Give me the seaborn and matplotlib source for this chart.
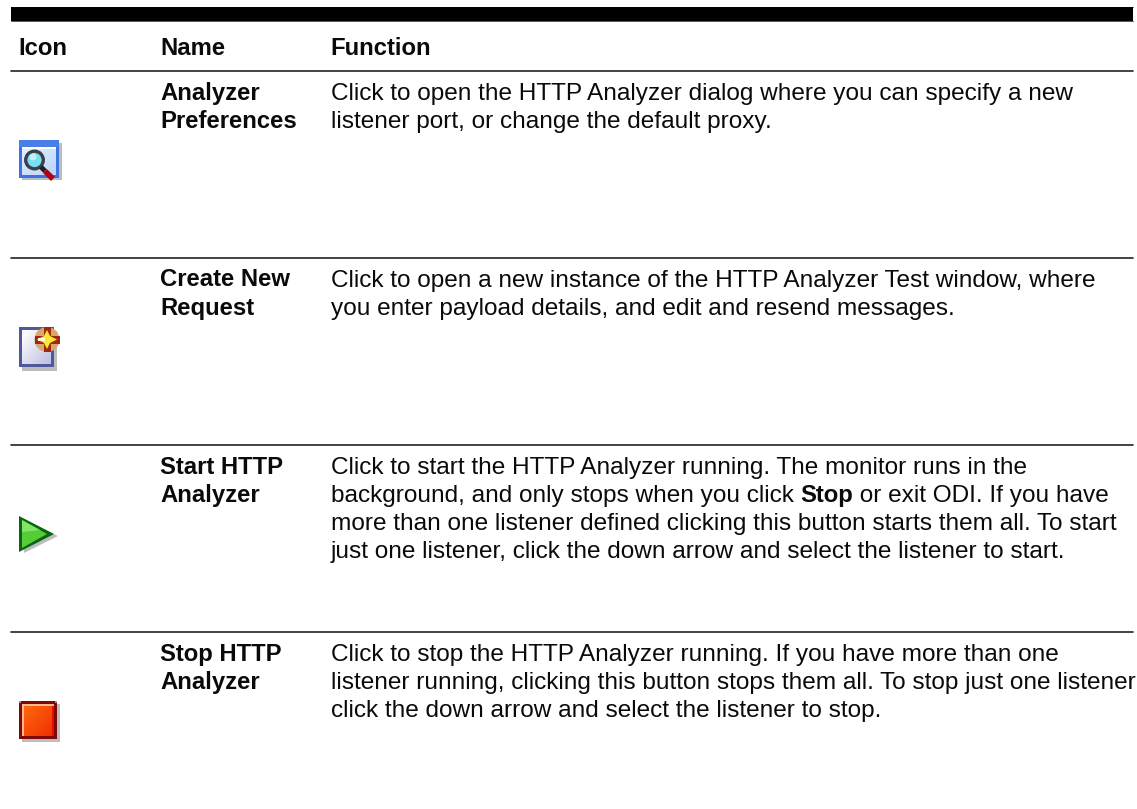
import matplotlib
matplotlib.use("Agg")
import matplotlib.pyplot as plt
import numpy as np
import seaborn as sns
from matplotlib.patches import Circle, Polygon, Rectangle

W, H = 1137, 809

headers = ["Icon", "Name", "Function"]
names = [
    ["Analyzer", "Preferences"],
    ["Create New", "Request"],
    ["Start HTTP", "Analyzer"],
    ["Stop HTTP", "Analyzer"],
]
# bold runs sit between | marks
functions = [
    ["Click to open the HTTP Analyzer dialog where you can specify a new",
     "listener port, or change the default proxy."],
    ["Click to open a new instance of the HTTP Analyzer Test window, where",
     "you enter payload details, and edit and resend messages."],
    ["Click to start the HTTP Analyzer running. The monitor runs in the",
     "background, and only stops when you click |Stop| or exit ODI. If you have",
     "more than one listener defined clicking this button starts them all. To start",
     "just one listener, click the down arrow and select the listener to start."],
    ["Click to stop the HTTP Analyzer running. If you have more than one",
     "listener running, clicking this button stops them all. To stop just one listener",
     "click the down arrow and select the listener to stop."],
]
row_tops = [71, 258, 445, 632]
LINE = 28.3
FS = 17.55
FS_BOLD = 17.2

sns.set_theme(style="white")
plt.rcParams["font.family"] = ["Liberation Sans", "DejaVu Sans"]

fig = plt.figure(figsize=(W / 100, H / 100), dpi=100)
ax = fig.add_axes([0, 0, 1, 1])
ax.set_xlim(0, W)
ax.set_ylim(H, 0)
ax.axis("off")


def rule(y, lw, color="#222222"):
    sns.lineplot(x=[11, 1133], y=[y, y], color=color, lw=lw, ax=ax, legend=False)


def rich(x, y, line):
    # draw a line with |bold| runs, advancing by measured width
    r = fig.canvas.get_renderer()
    for i, part in enumerate(line.split("|")):
        bold = i % 2 == 1
        t = ax.text(x, y, part, fontsize=FS_BOLD if bold else FS, color="#0a0a0a", va="baseline",
                    fontweight="bold" if bold else "normal")
        x = x + t.get_window_extent(r).width


def gradient(x0, x1, y0, y1, c0, c1, z=2):
    a = np.array(matplotlib.colors.to_rgb(c0))
    b = np.array(matplotlib.colors.to_rgb(c1))
    t = np.linspace(0, 1, 12)
    img = np.zeros((12, 12, 3))
    for i in range(12):
        for j in range(12):
            img[i, j] = a + (b - a) * (t[i] + t[j]) / 2
    ax.imshow(img, extent=(x0, x1, y1, y0), zorder=z, interpolation="bilinear", aspect="auto")


def box(x, y, w, h, c, z=1):
    ax.add_patch(Rectangle((x, y), w, h, color=c, lw=0, zorder=z))


def icon_search():
    box(22, 143, 40, 37, "#bdbdbd")
    box(19, 140, 40, 38, "#3b74e2", 2)
    box(19, 140, 40, 7, "#4a80e6", 2)
    box(22, 147, 34, 2, "#ffffff", 3)
    gradient(22, 56, 149, 175, "#e4efff", "#b8d4fa", 3)
    ax.add_patch(Circle((34.5, 160), 8.8, fc="#78e0f0", ec="#3c3e48", lw=2.4, zorder=4))
    ax.add_patch(Circle((33, 157), 3.5, fc="#c0f4fa", lw=0, zorder=5))
    ax.plot([41, 45], [167, 171], color="#202020", lw=3.5, zorder=4, solid_capstyle="butt")
    ax.plot([45, 53], [171, 179], color="#b00010", lw=4, zorder=4, solid_capstyle="butt")


def icon_new():
    box(22, 331, 35, 40, "#bdbdbd")
    box(19, 327, 35, 40, "#50589c", 2)
    gradient(22, 51, 330, 364, "#ffffff", "#c0c0e4", 3)
    ax.add_patch(Circle((47, 339.5), 12.5, fc="#d8a868", lw=0, zorder=4))
    box(43.5, 327, 7, 25, "#a02810", 5)
    box(35, 335.5, 24.5, 8, "#a02810", 5)
    ax.add_patch(Polygon([(47, 330), (50, 336), (57, 339.5), (50, 343), (47, 349), (44, 343), (37, 339.5), (44, 336)],
                         fc="#f8e830", lw=0, zorder=6))
    box(38, 338, 7, 3, "#fffde0", 7)


def icon_start():
    ax.add_patch(Polygon([(22, 520), (58, 536), (24, 553)], fc="#bdbdbd", lw=0, zorder=1))
    ax.add_patch(Polygon([(19, 516), (54, 534), (19, 552)], fc="#0a6410", lw=0, zorder=2))
    ax.add_patch(Polygon([(22, 520), (47, 534), (22, 548)], fc="#56cc38", lw=0, zorder=3))
    ax.add_patch(Polygon([(22, 520), (40, 530), (22, 532)], fc="#84e468", lw=0, zorder=4))


def icon_stop():
    box(22, 704, 38, 38, "#bdbdbd")
    box(19, 701, 38, 38, "#7c0808", 2)
    box(19, 701, 2, 2, "#c08080", 3)
    box(55, 701, 2, 2, "#c08080", 3)
    gradient(22, 54, 704, 736, "#ff6a10", "#f03000", 3)
    box(22, 704, 1.8, 32, "#ffb890", 4)
    box(22, 704, 32, 1.8, "#ffb890", 4)
    box(52, 705.8, 2, 30, "#e01000", 4)


box(11, 7, 1122, 13.5, "#000000", 3)
rule(6.7, 0.7, "#666666")
rule(20.7, 0.7, "#555555")
for y in row_tops:
    rule(y, 1.2)

for x, label in zip([18.3, 160.3, 330.6], headers):
    ax.text(x, 55, label, fontsize=FS_BOLD, fontweight="bold", color="#0a0a0a", va="baseline")

for top, name, func in zip(row_tops, names, functions):
    for i, line in enumerate(name):
        ax.text(160.5, top + 28.5 + i * LINE, line, fontsize=FS_BOLD, fontweight="bold", color="#0a0a0a", va="baseline")
    for i, line in enumerate(func):
        rich(331, top + 28.5 + i * LINE, line)

icon_search()
icon_new()
icon_start()
icon_stop()

ax.set_xlim(0, W)
ax.set_ylim(H, 0)
fig.savefig("out.png", dpi=100, facecolor="white")
